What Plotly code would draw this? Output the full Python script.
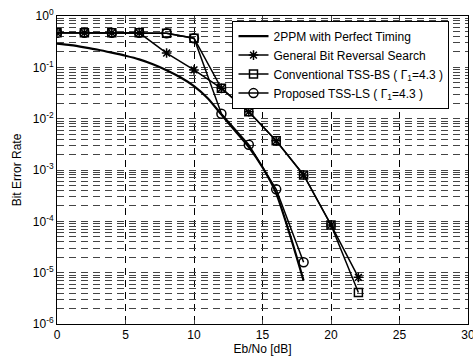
import plotly.graph_objects as go

# ---- data ----
x_perfect = [0, 1, 2, 3, 4, 5, 6, 7, 8, 9, 10, 11, 12, 13, 14, 15, 16, 17, 18]
ber_perfect = [0.29, 0.27, 0.245, 0.22, 0.193, 0.168, 0.143, 0.115, 0.088, 0.064,
               0.043, 0.025, 0.012, 0.0058, 0.0028, 0.00113, 3.5e-4, 5.5e-5, 7e-6]

x_gbrs = [0, 2, 4, 6, 8, 10, 12, 14, 16, 18, 20, 22]
ber_gbrs = [0.47, 0.47, 0.47, 0.47, 0.19, 0.089, 0.039, 0.0136, 0.0037, 8e-4, 8.5e-5, 8.1e-6]

x_conv = [0, 2, 4, 6, 8, 10, 12, 14, 16, 18, 20, 22]
ber_conv = [0.47, 0.47, 0.47, 0.47, 0.46, 0.37, 0.039, 0.0136, 0.0037, 8e-4, 8.5e-5, 4.1e-6]

x_prop = [0, 2, 4, 6, 8, 10, 12, 14, 16, 18]
ber_prop = [0.47, 0.47, 0.47, 0.47, 0.46, 0.37, 0.0125, 0.0031, 4.2e-4, 1.6e-5]

names = ["2PPM with Perfect Timing",
         "General Bit Reversal Search",
         "Conventional TSS-BS ( \u0393<sub>1</sub>=4.3 )",
         "Proposed TSS-LS ( \u0393<sub>1</sub>=4.3 )"]

x_ticks = [0, 5, 10, 15, 20, 25, 30]
y_decades = [-6, -5, -4, -3, -2, -1, 0]
y_ticklabels = ["10<sup>%d</sup>" % d for d in y_decades]

# all log grid positions (decades + 2..9 minors)
y_grid = []
y_text = []
for d, lab in zip(y_decades, y_ticklabels):
    y_grid.append(10.0 ** d)
    y_text.append(lab)
    if d < 0:
        for m in range(2, 10):
            y_grid.append(m * 10.0 ** d)
            y_text.append("")

FONT = "Liberation Sans, Arial, Helvetica, sans-serif"
FS = 12

fig = go.Figure()
fig.add_trace(go.Scatter(x=x_perfect, y=ber_perfect, mode="lines", name=names[0],
                         line=dict(color="black", width=2.2, shape="spline", smoothing=0.6)))
fig.add_trace(go.Scatter(x=x_gbrs, y=ber_gbrs, mode="lines+markers", name=names[1],
                         line=dict(color="black", width=1.5),
                         marker=dict(symbol="asterisk-open", size=8, color="black",
                                     line=dict(color="black", width=1.5))))
fig.add_trace(go.Scatter(x=x_conv, y=ber_conv, mode="lines+markers", name=names[2],
                         line=dict(color="black", width=1.5),
                         marker=dict(symbol="square-open", size=8, color="black",
                                     line=dict(color="black", width=1.5))))
fig.add_trace(go.Scatter(x=x_prop, y=ber_prop, mode="lines+markers", name=names[3],
                         line=dict(color="black", width=1.5),
                         marker=dict(symbol="circle-open", size=9, color="black",
                                     line=dict(color="black", width=1.5))))

fig.update_layout(
    width=473, height=361,
    margin=dict(l=57, r=5, t=16, b=37),
    paper_bgcolor="white", plot_bgcolor="white",
    font=dict(family=FONT, size=FS, color="black"),
    showlegend=True,
    legend=dict(x=0.427, y=0.985, xanchor="left", yanchor="top",
                bgcolor="white", bordercolor="black", borderwidth=1,
                font=dict(family=FONT, size=FS, color="black"),
                tracegroupgap=0, itemwidth=30),
)
fig.update_xaxes(range=[0, 30], tickvals=x_ticks, ticks="inside", ticklen=4,
                 showline=True, linecolor="black", linewidth=1, mirror="ticks",
                 showgrid=True, gridcolor="black", gridwidth=1, griddash="7px,5px",
                 zeroline=False, tickfont=dict(size=FS), automargin=False,
                 ticklabeloverflow="allow",
                 title=dict(text="Eb/No [dB]", font=dict(size=FS), standoff=0))
fig.update_yaxes(type="log", range=[-6, 0], tickvals=y_grid, ticktext=y_text,
                 ticks="inside", ticklen=3,
                 showline=True, linecolor="black", linewidth=1, mirror="ticks",
                 showgrid=True, gridcolor="#444", gridwidth=1, griddash="7px,5px",
                 zeroline=False, tickfont=dict(size=FS), automargin=False,
                 title=dict(text="Bit Error Rate", font=dict(size=FS), standoff=8))

fig.write_html("out.html", config={"displayModeBar": False})

# remove the browser's default page margin so the figure sits at (0, 0)
with open("out.html", "r", encoding="utf-8") as f:
    html = f.read()
html = html.replace("<body>", '<body style="margin:0;padding:0;overflow:hidden">', 1)
with open("out.html", "w", encoding="utf-8") as f:
    f.write(html)
